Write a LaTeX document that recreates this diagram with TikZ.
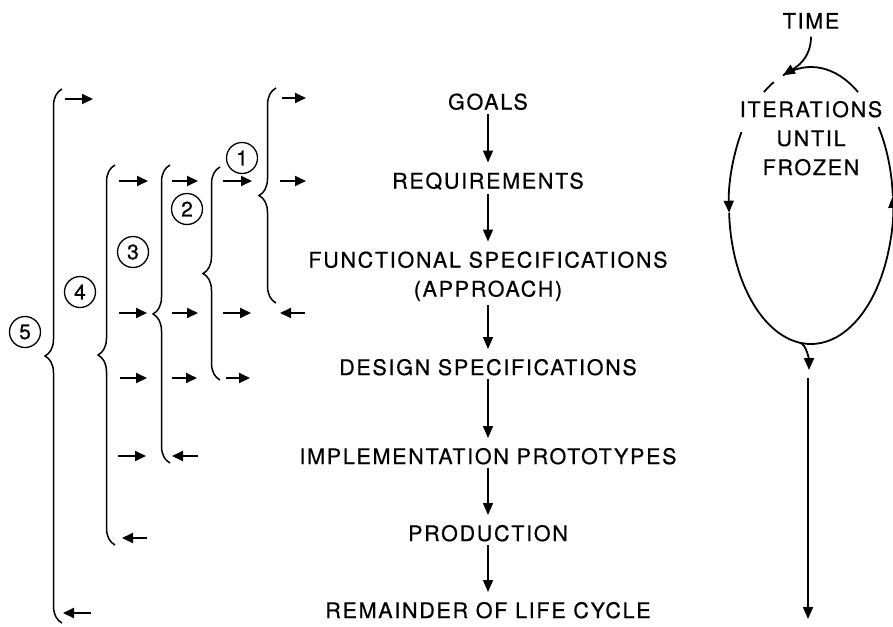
\documentclass[tikz,border=0pt]{standalone}
\usepackage{fontspec}
\newfontfamily\lbl{TeX Gyre Heros}[LetterSpace=8,FakeBold=0.6]
\newfontfamily\digitfont{TeX Gyre Heros}[FakeBold=0.6]
\usetikzlibrary{arrows.meta,decorations.pathreplacing,calc}
\begin{document}
\begin{tikzpicture}[x=1pt,y=1pt,
  lab/.style={font=\lbl\fontsize{21.5}{29}\selectfont, inner sep=0pt, outer sep=0pt, align=center, anchor=north},
  flow/.style={line width=1.6pt, -{Triangle[length=12pt,width=10pt]}, shorten <=4pt, shorten >=10pt},
  sarr/.style={line width=1.9pt, -{Triangle[length=11pt,width=10pt]}},
  brc/.style={line width=1.5pt, decorate, decoration={brace, amplitude=17pt}},
  circnum/.style={circle, draw, line width=1.3pt, minimum size=31pt, inner sep=0pt, font=\digitfont\fontsize{21}{24}\selectfont},
  ringline/.style={line width=1.8pt},
  ringarrow/.style={line width=1.8pt, -{Triangle[length=12pt,width=10pt]}}
]
\useasboundingbox (0,0) rectangle (893,-626);

% central column
\node[lab] (goals)  at (488,-93.5) {GOALS};
\node[lab] (req)    at (488,-172.5) {REQUIREMENTS};
\node[lab] (func)   at (488,-251.5) {FUNCTIONAL SPECIFICATIONS\\(APPROACH)};
\node[lab] (design) at (488,-359) {DESIGN SPECIFICATIONS};
\node[lab] (impl)   at (488,-448) {IMPLEMENTATION PROTOTYPES};
\node[lab] (prod)   at (488,-525) {PRODUCTION};
\node[lab] (rem)    at (488,-602) {REMAINDER OF LIFE CYCLE};

\draw[flow] (goals.south) -- (req.north);
\draw[flow] (req.south) -- (func.north);
\draw[flow] (func.south) -- (design.north);
\draw[flow] (design.south) -- (impl.north);
\draw[flow] (impl.south) -- (prod.north);
\draw[flow] (prod.south) -- (rem.north);

% braces
\draw[brc] (62,-623) -- (62,-89);
\draw[brc] (115,-545) -- (115,-165);
\draw[brc] (170,-463) -- (170,-165);
\draw[brc] (220,-380) -- (220,-167);
\draw[brc] (276,-303) -- (276,-88);

% circled numbers
\node[circnum] (n1) at (242,-158) {1};
\node[circnum] (n2) at (187,-209) {2};
\node[circnum] (n3) at (133,-252) {3};
\node[circnum] (n4) at (80,-292) {4};
\node[circnum] (n5) at (25,-332) {5};

% small arrows
\draw[sarr] (65,-99) -- (93,-99);
\draw[sarr] (282,-98) -- (306,-98);
\draw[sarr] (119,-181) -- (148,-181);
\draw[sarr] (172,-181) -- (198,-181);
\draw[sarr] (223,-181) -- (252,-181);
\draw[sarr] (280,-181) -- (306,-181);
\draw[sarr] (119,-313) -- (147,-313);
\draw[sarr] (172,-313) -- (198,-313);
\draw[sarr] (223,-313) -- (251,-313);
\draw[sarr] (305,-313) -- (280,-313);
\draw[sarr] (120,-378) -- (147,-378);
\draw[sarr] (172,-378) -- (197,-378);
\draw[sarr] (226,-378) -- (250,-378);
\draw[sarr] (118,-456) -- (146,-456);
\draw[sarr] (198,-456) -- (172,-456);
\draw[sarr] (147,-538) -- (122,-538);
\draw[sarr] (91,-613) -- (63,-613);

% right side: iteration loop
\node[lab] (time) at (811,-13) {TIME};
\node[lab] (iter) at (811,-101) {ITERATIONS\\UNTIL\\FROZEN};
\coordinate (E) at (811,-205.5);
\coordinate (topjoin) at ($(E)+(110:82pt and 138.5pt)$);
\coordinate (bot) at ($(E)+(262:82pt and 138.5pt)$);
\draw[ringline] ($(E)+(55:82pt and 138.5pt)$) arc[start angle=55, end angle=110, x radius=82pt, y radius=138.5pt];
\draw[ringline] ($(E)+(117:82pt and 138.5pt)$) arc[start angle=117, end angle=125, x radius=82pt, y radius=138.5pt];
\draw[ringarrow] ($(E)+(148:82pt and 138.5pt)$) arc[start angle=148, end angle=183, x radius=82pt, y radius=138.5pt];
\draw[ringarrow] ($(E)+(183:82pt and 138.5pt)$) arc[start angle=183, end angle=364, x radius=82pt, y radius=138.5pt];
\draw[ringline] ($(E)+(4:82pt and 138.5pt)$) arc[start angle=4, end angle=34.5, x radius=82pt, y radius=138.5pt];
\draw[ringarrow] ([yshift=-8pt]time.south) .. controls +(0,-22) and +(12.8,7.9) .. (topjoin);
\coordinate (exittip) at (809,-370);
\draw[ringarrow] (bot) .. controls +(7,-1) and +(0,9) .. (exittip);
\coordinate (vtop) at (808,-378);
\coordinate (vbot) at (808,-619);
\draw[ringarrow] (vtop) -- (vbot);
\end{tikzpicture}
\end{document}
